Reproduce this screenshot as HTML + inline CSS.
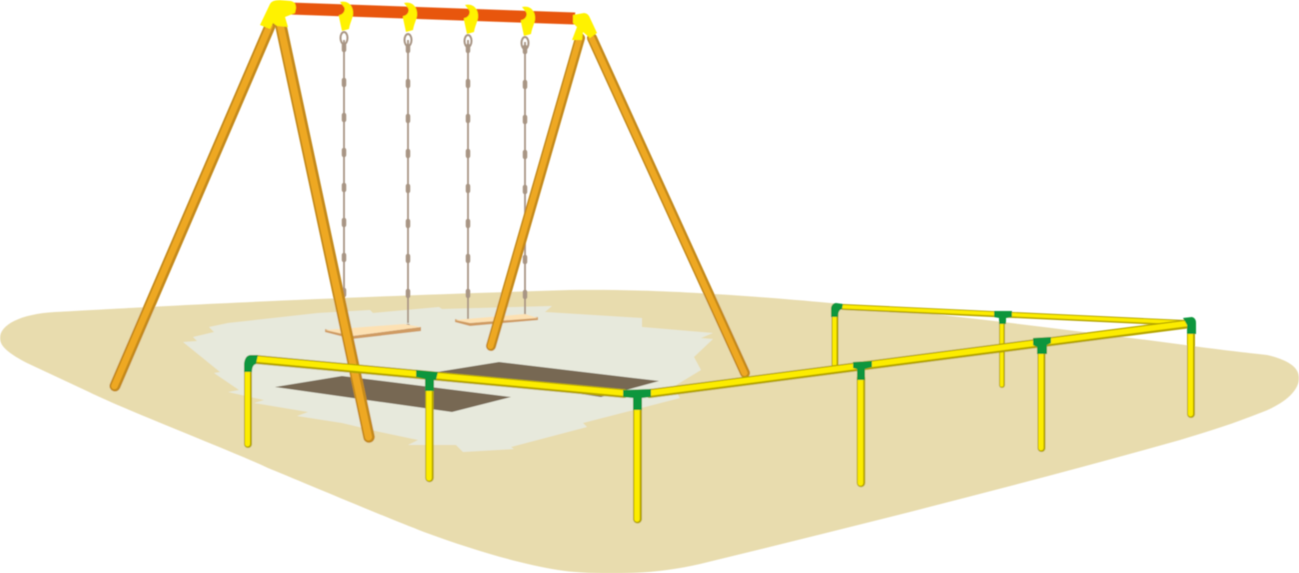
<!DOCTYPE html>
<html><head><meta charset="utf-8"><style>html,body{margin:0;padding:0;background:#fff}svg{display:block}</style></head>
<body>
<svg width="1299" height="573" viewBox="0 0 1299 573" xmlns="http://www.w3.org/2000/svg">
<defs>
<filter id="soft" x="-2%" y="-2%" width="104%" height="104%"><feGaussianBlur stdDeviation="0.4"/></filter>
<g id="clamp"><path d="M-5,-1 C4,-3 9,4 8,12 C7,17 5,20 4,26 L-3,28 L-6,14 L-6,12 C-2,12 1,7 -1,4 Z" fill="#fff200"/></g>
</defs>
<g filter="url(#soft)">
<!-- sand -->
<path d="M0,338 C0,325 20,314 55,312 C110,309 300,298 570,290 C640,289 720,293 830,303 C950,315 1080,331 1200,347 C1230,351 1250,353 1267,355 C1285,359 1299,366 1299,378 C1299,392 1282,405 1260,413 C1235,423 1210,431 1180,440 C1020,485 860,525 700,564 C650,576 590,575 558,570 C520,564 470,549 424,532 C380,515 300,481 268,468 C230,450 130,412 89,392 L27,363 C10,354 0,347 0,338 Z" fill="#e8dcae"/>
<!-- pale area -->
<path d="M183,342 L197,341 L193,337 L214,332 L209,327 L228,323 L318,313 L370,310 L373,313 L439,307 L442,309 L552,306 L545,312 L642,318 L642,327 L713,333 L701,338 L713,339 L694,357 L701,370 L673,387 L680,398 L583,423 L587,427 L511,447 L514,449 L463,452 L456,445 L408,445 L418,440 L380,432 L342,423 L297,416 L308,412 L254,403 L264,400 L228,392 L239,390 L214,373 L220,372 Z" fill="#e7e9dc"/>
<!-- shadows -->
<polygon points="275,387 342,376 511,397 452,412" fill="#776852"/>
<polygon points="437,372 499,362 659,381 601,397" fill="#776852"/>
<!-- chains -->
<g fill="none" stroke="#a89584">
<g stroke-width="1.8">
<line x1="344" y1="40" x2="344" y2="300"/><line x1="408" y1="40" x2="408" y2="323"/><line x1="468" y1="40" x2="468" y2="320"/><line x1="525" y1="42" x2="525" y2="315"/>
</g>
<g stroke-width="4.500" stroke-dasharray="5 30" stroke-linecap="round">
<line x1="344" y1="45" x2="344" y2="300"/><line x1="408" y1="46" x2="408" y2="328"/><line x1="468" y1="46" x2="468" y2="324"/><line x1="525" y1="47" x2="525" y2="320"/>
</g>
<g stroke-width="2">
<ellipse cx="344" cy="38" rx="3.500" ry="6"/><ellipse cx="408" cy="40" rx="3.500" ry="6"/><ellipse cx="468" cy="41" rx="3.500" ry="6"/><ellipse cx="525" cy="43" rx="3.500" ry="6"/>
</g>
</g>
<!-- seats -->
<polygon points="325,332 352,339 421,331 421,327 352,336 325,329" fill="#cf9b63"/>
<polygon points="325,330 404,324 421,327 352,336" fill="#fde1b3"/>
<polygon points="455,322 470,326 538,320 538,317 470,323 455,319" fill="#cf9b63"/>
<polygon points="455,320 525,314 538,318 470,323" fill="#fde1b3"/>
<!-- poles -->
<g fill="none" stroke-linecap="round">
<line x1="270" y1="26" x2="115" y2="386" stroke="#c48a1a" stroke-width="11"/>
<line x1="269.500" y1="26" x2="114.500" y2="386" stroke="#eea823" stroke-width="6.500"/>
<line x1="281" y1="26" x2="369" y2="437" stroke="#c48a1a" stroke-width="11.500"/>
<line x1="280.500" y1="26" x2="368.500" y2="437" stroke="#eea823" stroke-width="7"/>
<line x1="580" y1="38" x2="491" y2="346" stroke="#c48a1a" stroke-width="10"/>
<line x1="579.500" y1="38" x2="490.500" y2="346" stroke="#eea823" stroke-width="6"/>
<line x1="592" y1="38" x2="745" y2="373" stroke="#c48a1a" stroke-width="10"/>
<line x1="591.500" y1="38" x2="744.500" y2="373" stroke="#eea823" stroke-width="6"/>
</g>
<!-- top bar -->
<line x1="290" y1="8.500" x2="575" y2="18.500" stroke="#e8560f" stroke-width="12"/>
<!-- connectors -->
<path d="M260,25 L270,4 Q272,0 280,0 L291,1 Q296,2 296,8 L295,13 L285,17 L288,27 L277,26 L273,23 L270,29 Z" fill="#fff200"/>
<path d="M573,15 L584,13 Q588,13 590,18 L597,33 L590,38 L583,32 L582,40 L572,40 L577,27 L573,23 Z" fill="#fff200"/>
<use href="#clamp" x="345" y="3"/><use href="#clamp" x="409" y="4"/><use href="#clamp" x="470" y="6"/><use href="#clamp" x="527" y="8"/>
<!-- back fence -->
<g fill="none" stroke-linecap="round">
<line x1="835" y1="315" x2="835" y2="366" stroke="#b5a500" stroke-width="7"/>
<line x1="834.500" y1="315" x2="834.500" y2="366" stroke="#fcec00" stroke-width="4"/>
<line x1="1002" y1="320" x2="1002" y2="385" stroke="#b5a500" stroke-width="6"/>
<line x1="1001.700" y1="320" x2="1001.700" y2="385" stroke="#fcec00" stroke-width="3.500"/>
<line x1="843" y1="307" x2="1185" y2="323" stroke="#b5a500" stroke-width="6"/>
<line x1="843" y1="306.700" x2="1185" y2="322.700" stroke="#fcec00" stroke-width="3.500"/>
</g>
<polygon points="994,311 1012,311 1012,317 1006,318 1006,324 999,324 999,318 994,317" fill="#0a963c"/>
<path d="M831,317 L831,308 Q832,303 836,303 L843,304 L842,309 Q838,310 838,317 Z" fill="#0a963c"/>
<!-- front fence -->
<g fill="none" stroke-linecap="round">
<line x1="248" y1="370" x2="248" y2="444" stroke="#b5a500" stroke-width="8"/>
<line x1="247.500" y1="370" x2="247.500" y2="444" stroke="#fcec00" stroke-width="5"/>
<line x1="429.500" y1="388" x2="429.500" y2="478" stroke="#b5a500" stroke-width="8.500"/>
<line x1="429" y1="388" x2="429" y2="478" stroke="#fcec00" stroke-width="5.500"/>
<line x1="637.500" y1="408" x2="637.500" y2="519" stroke="#b5a500" stroke-width="9"/>
<line x1="637" y1="408" x2="637" y2="519" stroke="#fcec00" stroke-width="5.500"/>
<line x1="861" y1="378" x2="861" y2="483" stroke="#b5a500" stroke-width="8.500"/>
<line x1="860.500" y1="378" x2="860.500" y2="483" stroke="#fcec00" stroke-width="5.500"/>
<line x1="1041.500" y1="352" x2="1041.500" y2="448" stroke="#b5a500" stroke-width="8"/>
<line x1="1041" y1="352" x2="1041" y2="448" stroke="#fcec00" stroke-width="5"/>
<line x1="1191" y1="332" x2="1191" y2="414" stroke="#b5a500" stroke-width="8"/>
<line x1="1190.500" y1="332" x2="1190.500" y2="414" stroke="#fcec00" stroke-width="5"/>
<line x1="256" y1="359.500" x2="624" y2="393.500" stroke="#b5a500" stroke-width="9"/>
<line x1="256" y1="359" x2="624" y2="393" stroke="#fcec00" stroke-width="5.500"/>
<line x1="650" y1="393.500" x2="1187" y2="324" stroke="#b5a500" stroke-width="9"/>
<line x1="650" y1="393" x2="1187" y2="323.500" stroke="#fcec00" stroke-width="5.500"/>
</g>
<g fill="#0a963c">
<path d="M244,372 L244,364 Q245,355 251,355 L258,355 L256,364 Q252,365 252,372 Z"/>
<polygon points="416,370 438,372 436,380 434,380 434,391 425,391 425,379 416,377"/>
<polygon points="623,390 651,389 651,397 642,398 642,410 633,410 633,398 623,397"/>
<polygon points="853,362 872,361 872,367 865,369 865,380 857,380 857,369 853,368"/>
<polygon points="1033,338 1051,337 1051,343 1047,345 1047,354 1037,354 1037,347 1033,345"/>
<path d="M1183,318 L1192,317 Q1196,318 1196,323 L1196,334 L1187,334 L1187,325 Z"/>
</g>
</g>
</svg>
</body></html>
